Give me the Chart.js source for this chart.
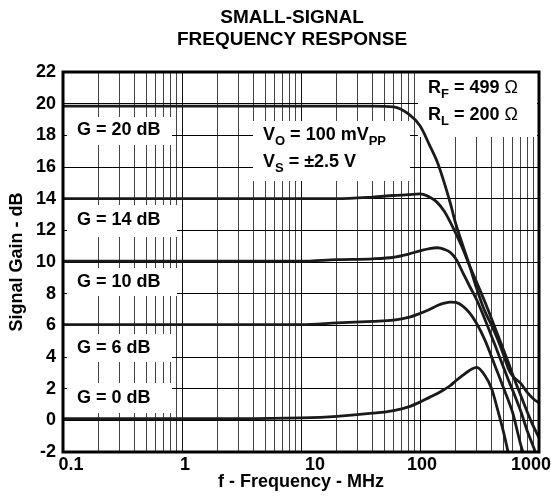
<!DOCTYPE html>
<html>
<head>
<meta charset="utf-8">
<script src="https://cdn.jsdelivr.net/npm/chart.js@4/dist/chart.umd.min.js"></script>
<style>
  body { margin: 0; background: #fff; }
</style>
</head>
<body>
<canvas id="freqChart" width="551" height="500"></canvas>
<script>
// Frequency points (MHz) shared by every curve; null = no reading there
const freqMHz = [0.1, 0.3, 1, 3, 10, 20, 40, 60, 80, 100, 120, 140, 160, 180, 200, 230, 260, 300, 350, 400, 450, 500, 550, 600, 650, 700, 800, 900, 1000];

// Gain (dB) for each closed-loop gain setting
const gain20 = [19.85, 19.85, 19.85, 19.85, 19.85, 19.85, 19.85, 19.8, 19.35, 18.6, 17.4, 16.3, 15.0, 13.7, 12.4, 11.0, 9.8, 8.3, 6.9, 6.0, 5.1, 4.2, 3.3, 2.8, 2.55, 2.35, 1.75, 1.35, 1.1];
const gain14 = [14.0, 14.0, 14.0, 14.0, 14.0, 14.0, 14.1, 14.2, 14.25, 14.3, 14.1, 13.75, 13.2, 12.5, 11.8, 10.8, 9.8, 8.7, 7.5, 6.4, 5.4, 4.5, 3.7, 2.9, null, 1.6, 0.5, -0.4, -1.1];
const gain10 = [10.05, 10.05, 10.05, 10.05, 10.05, 10.15, 10.2, 10.3, 10.5, 10.7, 10.85, 10.9, 10.8, 10.6, 10.2, 9.3, 8.5, 7.6, 6.4, 5.3, 4.3, 3.4, 2.6, 1.9, null, 0.6, -0.7, -1.7, -2.6];
const gain6 = [6.05, 6.05, 6.05, 6.05, 6.05, 6.15, 6.25, 6.33, 6.5, 6.75, 7.0, 7.25, 7.4, 7.47, 7.45, 7.2, 6.8, 6.1, 5.1, 4.0, 3.0, 2.1, 1.3, 0.5, null, -1.5, -2.9, null, null];
const gain0 = [0.1, 0.1, 0.1, 0.1, 0.15, 0.25, 0.45, 0.62, 0.85, 1.15, 1.45, 1.7, 1.95, 2.2, 2.5, 2.85, 3.15, 3.35, 2.85, 2.0, 0.65, -0.65, -2.0, -3.2, null, null, null, null, null];

const seriesNames = ['G = 20 dB', 'G = 14 dB', 'G = 10 dB', 'G = 6 dB', 'G = 0 dB'];
const seriesGains = [gain20, gain14, gain10, gain6, gain0];

// Axis tick labels
const xTickLabels = [0.1, 1, 10, 100, 1000];
const yMin = -2, yMax = 22, yStep = 2;

const FONT = '"Liberation Sans", Arial, sans-serif';

// grid lines at 1..9 of every decade
const gridFreqs = [];
[0.1, 1, 10, 100].forEach(d => {
  for (let m = 1; m <= 9; m++) gridFreqs.push(+(d * m).toPrecision(3));
});
gridFreqs.push(1000);

// draw a line of text with subscripts; part = [text, kind] kind 0 normal, 1 subscript, 2 thin
function drawRich(ctx, parts, x, y) {
  parts.forEach(p => {
    if (p[1] === 1) ctx.font = 'bold 13px ' + FONT;
    else if (p[1] === 2) ctx.font = '18px ' + FONT;
    else ctx.font = 'bold 18px ' + FONT;
    ctx.fillText(p[0], x, y + (p[1] === 1 ? 6 : 0));
    x += ctx.measureText(p[0]).width;
  });
}

const annotations = {
  id: 'annotations',
  beforeDatasetsDraw(chart) {
    const ctx = chart.ctx;
    ctx.save();
    // white boxes behind the labels
    ctx.fillStyle = '#fff';
    ctx.fillRect(67, 117, 105, 28);
    ctx.fillRect(67, 205, 110, 32);
    ctx.fillRect(67, 268, 110, 28);
    ctx.fillRect(67, 334, 105, 28);
    ctx.fillRect(67, 383, 105, 30);
    ctx.fillRect(253, 121, 157, 60);
    ctx.fillRect(418, 73, 119, 64);

    ctx.fillStyle = '#000';
    ctx.textBaseline = 'middle';
    ctx.textAlign = 'left';
    const gy = [130, 220, 282, 348, 398];
    seriesNames.forEach((n, i) => drawRich(ctx, [[n, 0]], 77, gy[i]));

    drawRich(ctx, [['V', 0], ['O', 1], [' = 100 mV', 0], ['PP', 1]], 263, 135);
    drawRich(ctx, [['V', 0], ['S', 1], [' = \u00b12.5 V', 0]], 263, 162);
    drawRich(ctx, [['R', 0], ['F', 1], [' = 499 ', 0], ['\u03a9', 2]], 428, 88);
    drawRich(ctx, [['R', 0], ['L', 1], [' = 200 ', 0], ['\u03a9', 2]], 428, 115);
    ctx.restore();
  },
  afterDraw(chart) {
    const ctx = chart.ctx;
    const a = chart.chartArea;
    const xs = chart.scales.x;
    ctx.save();
    ctx.strokeStyle = '#000';
    ctx.lineWidth = 3;
    ctx.strokeRect(a.left, a.top, a.right - a.left, a.bottom - a.top);

    ctx.fillStyle = '#000';
    ctx.textAlign = 'center';
    ctx.textBaseline = 'middle';
    ctx.font = 'bold 19px ' + FONT;
    ctx.fillText('SMALL-SIGNAL', 292, 18);
    ctx.fillText('FREQUENCY RESPONSE', 292, 40);

    ctx.font = 'bold 18px ' + FONT;
    ctx.fillText('f - Frequency - MHz', 301, 482);

    // x tick labels, ends pulled inside like the original
    const shift = [8, 3, 14, 2, -8];
    xTickLabels.forEach((v, i) => {
      ctx.fillText(String(v), xs.getPixelForValue(v) + shift[i], 465);
    });

    ctx.translate(17, 262);
    ctx.rotate(-Math.PI / 2);
    ctx.fillText('Signal Gain - dB', 0, 0);
    ctx.restore();
  }
};

const datasets = seriesGains.map((g, i) => ({
  label: seriesNames[i],
  data: freqMHz.map((f, j) => ({ x: f, y: g[j] })),
  borderColor: '#1a1a1a',
  borderWidth: 2.8,
  pointRadius: 0,
  cubicInterpolationMode: 'monotone',
  spanGaps: true,
  fill: false
}));

new Chart(document.getElementById('freqChart').getContext('2d'), {
  type: 'line',
  data: { datasets: datasets },
  options: {
    responsive: false,
    animation: false,
    layout: { padding: { top: 72, right: 12, left: 0, bottom: 0 } },
    plugins: {
      legend: { display: false },
      tooltip: { enabled: false }
    },
    scales: {
      x: {
        type: 'logarithmic',
        min: 0.1,
        max: 1000,
        afterBuildTicks: scale => { scale.ticks = gridFreqs.map(v => ({ value: v })); },
        afterFit: scale => { scale.height = 48; },
        ticks: { display: false },
        border: { display: false },
        grid: {
          drawTicks: false,
          lineWidth: 1,
          color: c => (xTickLabels.includes(c.tick.value) ? '#111' : '#444')
        }
      },
      y: {
        min: yMin,
        max: yMax,
        afterFit: scale => { scale.width = 63; },
        ticks: {
          stepSize: yStep,
          color: '#000',
          padding: 7,
          font: { family: FONT, size: 18, weight: 'bold' }
        },
        border: { display: false },
        grid: { drawTicks: false, color: '#000', lineWidth: 1 }
      }
    }
  },
  plugins: [annotations]
});
</script>
</body>
</html>
